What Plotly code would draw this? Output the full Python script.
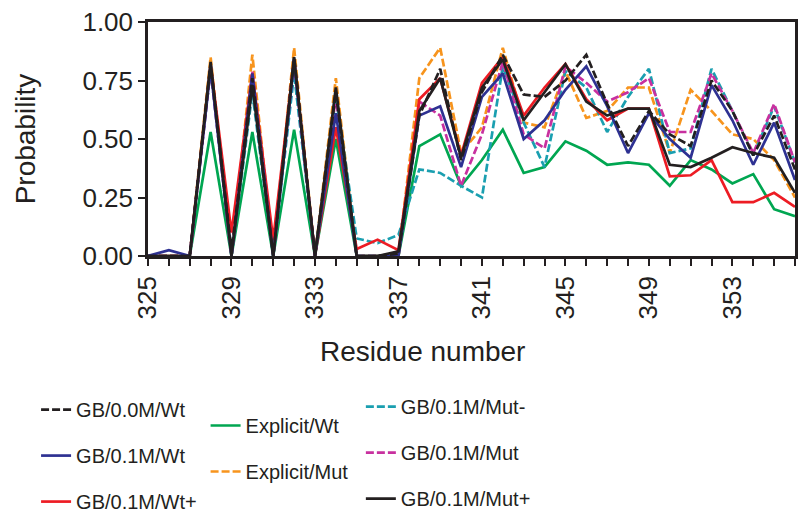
import plotly.graph_objects as go

residues = list(range(325, 357))
tick_vals = list(range(325, 357))
tick_text = [str(r) if (r - 325) % 4 == 0 else "" for r in tick_vals]
y_ticks = [0.0, 0.25, 0.5, 0.75, 1.0]
y_tick_text = ["0.00", "0.25", "0.50", "0.75", "1.00"]

gb00_wt = [0, 0, 0, 0.82, 0.02, 0.76, 0, 0.85, 0, 0.70, 0, 0, 0.01,
           0.60, 0.80, 0.41, 0.70, 0.86, 0.69, 0.68, 0.75, 0.86, 0.65, 0.47, 0.62,
           0.52, 0.47, 0.75, 0.62, 0.43, 0.60, 0.37]
gb01_wt = [0, 0.025, 0, 0.80, 0, 0.78, 0, 0.83, 0, 0.61, 0, 0, 0,
           0.60, 0.64, 0.38, 0.68, 0.78, 0.50, 0.58, 0.71, 0.81, 0.64, 0.44, 0.61,
           0.50, 0.42, 0.73, 0.58, 0.39, 0.57, 0.325]
gb01_wtp = [0, 0, 0, 0.82, 0.10, 0.78, 0.07, 0.84, 0, 0.55, 0.03, 0.07, 0.025,
            0.67, 0.76, 0.43, 0.74, 0.85, 0.60, 0.72, 0.82, 0.67, 0.58, 0.63, 0.63,
            0.34, 0.345, 0.41, 0.23, 0.23, 0.27, 0.21]
explicit_wt = [0, 0, 0, 0.53, 0, 0.53, 0, 0.54, 0, 0.50, 0, 0, 0,
               0.47, 0.52, 0.30, 0.41, 0.54, 0.355, 0.38, 0.49, 0.45, 0.39, 0.40, 0.39,
               0.30, 0.41, 0.37, 0.31, 0.35, 0.20, 0.17]
explicit_mut = [0, 0, 0, 0.85, 0, 0.86, 0, 0.89, 0, 0.76, 0, 0, 0,
                0.76, 0.89, 0.44, 0.55, 0.89, 0.57, 0.55, 0.79, 0.59, 0.62, 0.72, 0.72,
                0.44, 0.71, 0.62, 0.52, 0.50, 0.41, 0.25]
gb01_mutm = [0, 0, 0, 0.80, 0, 0.70, 0, 0.78, 0, 0.68, 0.075, 0.055, 0.09,
             0.37, 0.355, 0.30, 0.25, 0.81, 0.57, 0.38, 0.79, 0.72, 0.53, 0.68, 0.80,
             0.44, 0.46, 0.80, 0.62, 0.43, 0.64, 0.40]
gb01_mut = [0, 0, 0, 0.80, 0, 0.79, 0, 0.84, 0, 0.68, 0, 0, 0,
            0.66, 0.60, 0.30, 0.52, 0.83, 0.52, 0.46, 0.81, 0.74, 0.66, 0.70, 0.76,
            0.53, 0.53, 0.78, 0.62, 0.44, 0.65, 0.40]
gb01_mutp = [0, 0, 0, 0.83, 0, 0.73, 0, 0.85, 0, 0.72, 0, 0, 0.02,
             0.62, 0.76, 0.42, 0.72, 0.84, 0.58, 0.70, 0.82, 0.66, 0.60, 0.63, 0.63,
             0.39, 0.38, 0.42, 0.465, 0.44, 0.42, 0.27]

DASH = "8px,3px"
series = [
    # name, values, color, dash, legend, rank
    ("Explicit/Wt", explicit_wt, "#00a651", "solid", "legend2", 1),
    ("Explicit/Mut", explicit_mut, "#f7941d", DASH, "legend2", 2),
    ("GB/0.1M/Mut-", gb01_mutm, "#1a9fb0", DASH, "legend3", 1),
    ("GB/0.1M/Mut", gb01_mut, "#c8309f", DASH, "legend3", 2),
    ("GB/0.1M/Wt+", gb01_wtp, "#ed1c24", "solid", "legend", 3),
    ("GB/0.1M/Wt", gb01_wt, "#2e3192", "solid", "legend", 2),
    ("GB/0.0M/Wt", gb00_wt, "#231f20", DASH, "legend", 1),
    ("GB/0.1M/Mut+", gb01_mutp, "#231f20", "solid", "legend3", 3),
]

fig = go.Figure()
for name, vals, color, dash, leg, rank in series:
    fig.add_trace(go.Scatter(
        x=residues, y=vals, mode="lines", name=name,
        line=dict(color=color, width=2.7, dash=dash),
        legend=leg, legendrank=rank, legendgroup=name,
    ))

LEGFONT = dict(family="Liberation Sans, Arial", size=20, color="#231f20")
common = dict(orientation="v", tracegroupgap=17, font=LEGFONT, bgcolor="rgba(0,0,0,0)",
              xanchor="left", yanchor="top", itemwidth=30, traceorder="grouped")

fig.update_layout(
    width=807, height=521,
    margin=dict(l=148, r=12, t=22, b=265, autoexpand=False),
    paper_bgcolor="white", plot_bgcolor="white",
    font=dict(family="Liberation Sans, Arial", size=26, color="#231f20"),
    legend=dict(x=-0.173, y=-0.573, **common),
    legend2=dict(x=0.089, y=-0.641, **common),
    legend3=dict(x=0.329, y=-0.56, **common),
    xaxis=dict(
        range=[325, 356], tickmode="array", tickvals=tick_vals, ticktext=tick_text,
        tickangle=-90, ticks="outside", ticklen=7, tickwidth=2, tickcolor="#231f20",
        showline=True, linecolor="#231f20", linewidth=2.5, mirror=True,
        showgrid=False, zeroline=False,
        tickfont=dict(size=26),
    ),
    yaxis=dict(
        range=[0, 1], tickmode="array", tickvals=y_ticks, ticktext=y_tick_text,
        ticks="outside", ticklen=7, tickwidth=2, tickcolor="#231f20",
        showline=True, linecolor="#231f20", linewidth=2.5, mirror=True,
        showgrid=False, zeroline=False,
        title=dict(text="Probability", font=dict(size=28), standoff=39),
        tickfont=dict(size=26),
    ),
    annotations=[dict(
        text="Residue number", xref="paper", yref="paper", x=0.4235, y=-0.41,
        xanchor="center", yanchor="middle", showarrow=False,
        font=dict(size=28, color="#231f20"),
    )],
)

fig.write_html("out.html")
